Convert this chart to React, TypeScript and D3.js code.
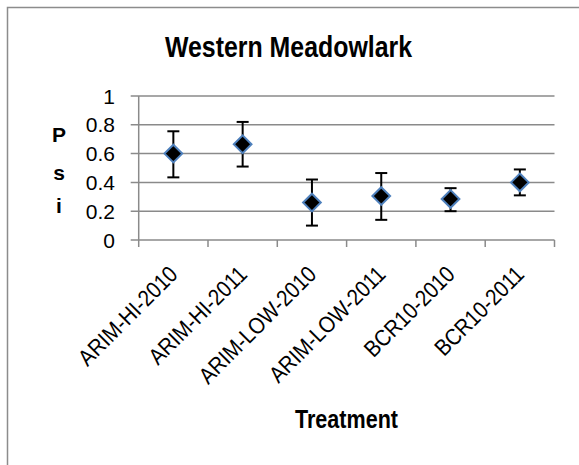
import React from "react";
import * as d3 from "d3";

const categories = [
  "ARIM-HI-2010",
  "ARIM-HI-2011",
  "ARIM-LOW-2010",
  "ARIM-LOW-2011",
  "BCR10-2010",
  "BCR10-2011",
];
const psiValues = [0.6, 0.665, 0.26, 0.305, 0.285, 0.4];
const errUpper = [0.755, 0.82, 0.42, 0.465, 0.36, 0.49];
const errLower = [0.435, 0.51, 0.1, 0.14, 0.2, 0.31];
const yTicks = [0, 0.2, 0.4, 0.6, 0.8, 1];
const yTickLabels = ["0", "0.2", "0.4", "0.6", "0.8", "1"];
const titleText = "Western Meadowlark";
const xTitle = "Treatment";
const yTitleLetters = ["P", "s", "i"];

const W = 579;
const H = 465;
const left = 138.7;
const right = 554.5;
const top = 96;
const bottom = 240;

export default function App() {
  const x = d3.scaleBand<string>().domain(categories).range([left, right]).padding(0);
  const y = d3.scaleLinear().domain([0, 1]).range([bottom, top]);
  const font = "'Liberation Sans', Arial, sans-serif";
  const grid = "#8a8a8a";
  const boundaries = d3.range(categories.length + 1).map((i) => left + i * x.step());
  const diamond = d3.symbol().type(d3.symbolDiamond2).size(2 * 10 * 10);
  const yLetterBaselines = [142, 180, 213];

  return (
    <svg
      width={W}
      height={H}
      style={{ position: "absolute", left: 0, top: 0, background: "#fff" }}
      fontFamily={font}
    >
      <rect x={0} y={0} width={W} height={H} fill="#fff" />
      <rect x={7.5} y={7.5} width={W + 20} height={H + 20} fill="none" stroke="#8c8c8c" strokeWidth={1.5} />

      <text
        x={165}
        y={56.5}
        fontSize={30}
        fontWeight="bold"
        textLength={247}
        lengthAdjust="spacingAndGlyphs"
      >
        {titleText}
      </text>

      {/* horizontal gridlines with outward ticks */}
      {yTicks.map((t) => (
        <line key={"g" + t} x1={left - 8} x2={right} y1={y(t)} y2={y(t)} stroke={grid} strokeWidth={1.5} />
      ))}
      {/* value axis */}
      <line x1={left} x2={left} y1={top} y2={bottom} stroke={grid} strokeWidth={1.5} />
      {/* category ticks */}
      {boundaries.map((bx, i) => (
        <line key={"t" + i} x1={bx} x2={bx} y1={bottom} y2={bottom + 7} stroke={grid} strokeWidth={1.5} />
      ))}

      {yTicks.map((t, i) => (
        <text key={"yl" + t} x={115} y={y(t) + 7.5} fontSize={21} textAnchor="end" fill="#000">
          {yTickLabels[i]}
        </text>
      ))}

      {yTitleLetters.map((c, i) => (
        <text key={"yt" + i} x={59} y={yLetterBaselines[i]} fontSize={21} fontWeight="bold" textAnchor="middle">
          {c}
        </text>
      ))}

      {categories.map((c) => {
        const cx = (x(c) as number) + x.bandwidth() / 2;
        return (
          <text
            key={"xl" + c}
            transform={`translate(${cx},270) rotate(-45) scale(0.88,1)`}
            fontSize={23}
            textAnchor="end"
            dy="0.35em"
          >
            {c}
          </text>
        );
      })}

      <text
        x={295}
        y={428}
        fontSize={26}
        fontWeight="bold"
        textLength={103}
        lengthAdjust="spacingAndGlyphs"
      >
        {xTitle}
      </text>

      {categories.map((c, i) => {
        const cx = (x(c) as number) + x.bandwidth() / 2;
        const yu = y(errUpper[i]);
        const yl = y(errLower[i]);
        return (
          <g key={"e" + c} stroke="#000" strokeWidth={2}>
            <line x1={cx} x2={cx} y1={yu} y2={yl} />
            <line x1={cx - 6} x2={cx + 6} y1={yu} y2={yu} />
            <line x1={cx - 6} x2={cx + 6} y1={yl} y2={yl} />
          </g>
        );
      })}

      {categories.map((c, i) => {
        const cx = (x(c) as number) + x.bandwidth() / 2;
        return (
          <path
            key={"m" + c}
            d={diamond() as string}
            transform={`translate(${cx},${y(psiValues[i])})`}
            fill="#000"
            stroke="#4f81bd"
            strokeWidth={2}
          />
        );
      })}
    </svg>
  );
}
